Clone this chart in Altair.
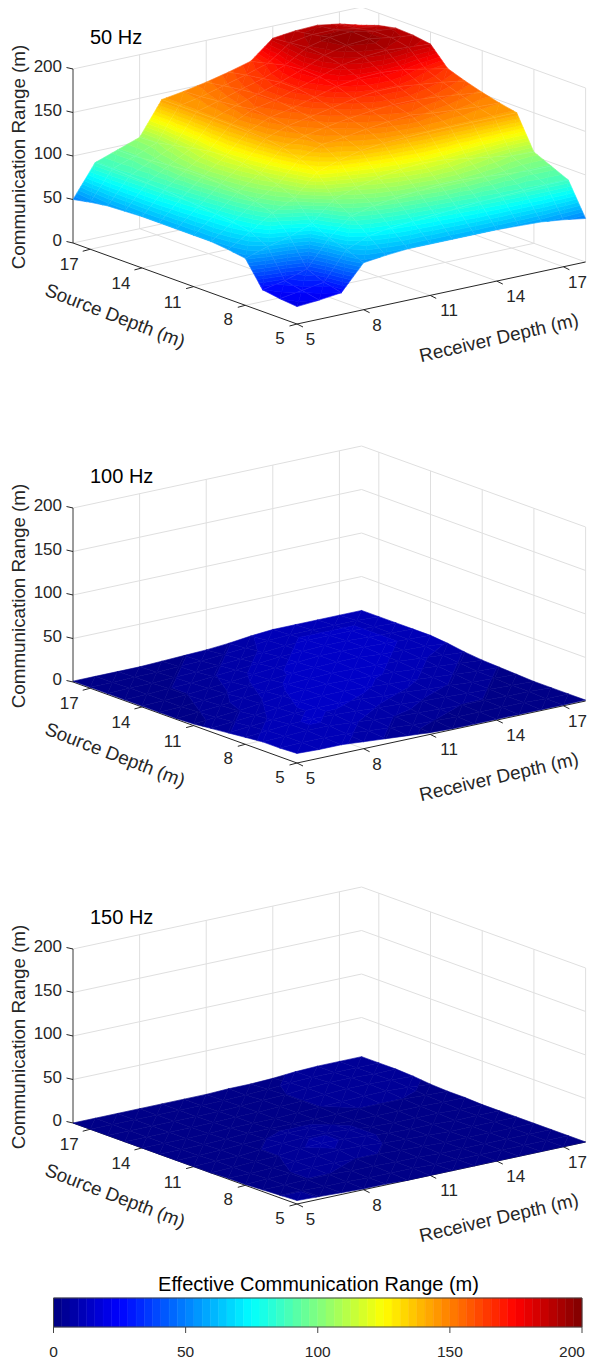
import altair as alt

# ---- values ----------------------------------------------------------------
depths = list(range(5, 19))  # grid used by the surfaces (m); axes end at 18
tick_depths = [5, 8, 11, 14, 17]
z_ticks = [0, 50, 100, 150, 200]
panel_titles = ["50 Hz", "100 Hz", "150 Hz"]

# rows: source depth 5..18, columns: receiver depth 5..18
range_50 = [
    [20, 22, 25, 54, 57, 59, 59, 59, 59, 59, 58, 57, 54, 50],
    [22, 26, 30, 62, 72, 76, 78, 80, 82, 84, 85, 86, 87, 87],
    [25, 30, 38, 68, 88, 94, 98, 100, 102, 102, 100, 98, 96, 96],
    [54, 62, 68, 78, 100, 108, 114, 118, 120, 118, 114, 110, 106, 105],
    [57, 72, 88, 100, 124, 132, 138, 141, 142, 143, 143, 143, 143, 143],
    [59, 76, 94, 108, 132, 143, 146, 150, 153, 155, 152, 150, 148, 147],
    [59, 78, 98, 114, 138, 146, 151, 155, 158, 160, 160, 158, 155, 152],
    [59, 80, 100, 118, 141, 150, 155, 160, 165, 168, 168, 165, 162, 158],
    [59, 82, 102, 120, 142, 153, 158, 165, 172, 176, 177, 175, 170, 165],
    [59, 84, 102, 118, 143, 155, 160, 168, 176, 184, 188, 190, 188, 186],
    [58, 85, 100, 114, 143, 152, 160, 168, 177, 188, 194, 196, 192, 189],
    [57, 86, 98, 110, 143, 150, 158, 165, 175, 190, 196, 197, 192, 190],
    [54, 87, 96, 106, 143, 148, 155, 162, 170, 188, 192, 192, 188, 186],
    [50, 87, 96, 105, 143, 147, 152, 158, 165, 186, 189, 190, 186, 179],
]
range_100 = [
    [11, 10, 10, 8, 6, 4, 2, 1, 1, 1, 1, 1, 1, 1],
    [10, 11, 11, 10, 8, 6, 4, 3, 2, 2, 2, 2, 1, 1],
    [10, 11, 12, 12, 10, 8, 6, 5, 4, 3, 3, 2, 2, 1],
    [8, 10, 12, 13, 12, 11, 9, 8, 6, 5, 4, 3, 2, 1],
    [6, 8, 10, 12, 13, 13, 12, 10, 9, 7, 6, 4, 3, 2],
    [4, 6, 8, 11, 13, 14, 14, 13, 11, 10, 8, 6, 4, 3],
    [2, 4, 6, 9, 12, 14, 15, 14, 13, 12, 10, 8, 6, 4],
    [1, 3, 5, 8, 10, 13, 14, 15, 14, 13, 12, 10, 8, 6],
    [1, 2, 4, 6, 9, 11, 13, 14, 15, 15, 13, 12, 11, 9],
    [1, 2, 3, 5, 7, 10, 12, 13, 15, 15, 14, 13, 12, 11],
    [1, 2, 3, 4, 6, 8, 10, 12, 13, 14, 14, 13, 12, 11],
    [1, 2, 2, 3, 4, 6, 8, 10, 12, 13, 13, 13, 12, 11],
    [1, 1, 2, 2, 3, 4, 6, 8, 11, 12, 12, 12, 12, 11],
    [1, 1, 1, 1, 2, 3, 4, 6, 9, 11, 11, 11, 11, 11],
]
range_150 = [
    [4, 3, 2, 1, 1, 0, 0, 0, 0, 0, 0, 0, 0, 0],
    [3, 3, 2, 2, 1, 1, 1, 0, 0, 0, 0, 0, 0, 0],
    [2, 2, 3, 3, 2, 2, 1, 1, 0, 0, 0, 0, 0, 0],
    [1, 2, 3, 4, 4, 3, 3, 2, 1, 0, 0, 0, 0, 0],
    [1, 1, 2, 4, 5, 6, 5, 3, 2, 1, 0, 0, 0, 0],
    [0, 1, 2, 3, 6, 7, 6, 4, 2, 1, 1, 0, 0, 0],
    [0, 1, 1, 3, 5, 6, 6, 4, 2, 1, 1, 1, 0, 0],
    [0, 0, 1, 2, 3, 4, 4, 3, 2, 2, 2, 2, 1, 1],
    [0, 0, 0, 1, 2, 2, 2, 2, 2, 3, 3, 3, 2, 1],
    [0, 0, 0, 0, 1, 1, 1, 2, 3, 4, 5, 5, 4, 2],
    [0, 0, 0, 0, 0, 1, 1, 2, 3, 5, 6, 6, 5, 4],
    [0, 0, 0, 0, 0, 0, 1, 2, 3, 5, 6, 6, 5, 5],
    [0, 0, 0, 0, 0, 0, 0, 1, 2, 4, 5, 5, 5, 5],
    [0, 0, 0, 0, 0, 0, 0, 1, 1, 2, 4, 5, 5, 5],
]
surfaces = [range_50, range_100, range_150]

# ---- layout ------------------------------------------------------------------
W, H = 579, 1354
FONT = "Liberation Sans"
PANEL_DY = [0, 439, 880]
N_COL = 64
Z_MAX = 200
MESH_OPACITY = [0.16, 0.03, 0.03]


def project(r, s, z, panel):
    """Orthographic view used by all three panels, page pixels minus margin."""
    a, b = r - 5, s - 5
    x = 297 + 22.2 * a - 17.23 * b
    y = 324 - 4.77 * a - 6.23 * b - 0.87 * z + PANEL_DY[panel]
    return x - 8, y - 8


def jet(n):
    def ramp(v):
        return max(0.0, min(1.0, 1.5 - abs(v)))
    out = []
    for i in range(n):
        t = (i + 0.5) / n * 4 - 2
        c = [ramp(t - 1), ramp(t), ramp(t + 1)]
        out.append("#%02x%02x%02x" % tuple(round(255 * v) for v in c))
    return out


jet_scale = alt.Scale(type="quantize", domain=[0, Z_MAX], range=jet(N_COL))


def clip(poly, level, keep_above):
    out = []
    for i, p in enumerate(poly):
        q = poly[(i + 1) % len(poly)]
        pin = p[2] >= level if keep_above else p[2] <= level
        qin = q[2] >= level if keep_above else q[2] <= level
        if pin:
            out.append(p)
        if pin != qin:
            t = (level - p[2]) / (q[2] - p[2])
            out.append((p[0] + t * (q[0] - p[0]), p[1] + t * (q[1] - p[1]), level))
    return out


def surface_features(table, panel):
    step = Z_MAX / N_COL
    feats = []
    n = len(depths)
    # painter's order: far corner (large depths) first
    cells = sorted(
        ((i, j) for i in range(n - 1) for j in range(n - 1)), key=lambda c: -(c[0] + c[1])
    )
    for i, j in cells:
        pts = []
        for ii, jj in [(i, j), (i, j + 1), (i + 1, j + 1), (i + 1, j)]:
            z = table[ii][jj]
            px, py = project(depths[jj], depths[ii], z, panel)
            pts.append((px, py, z))
        for tri in ([pts[0], pts[1], pts[2]], [pts[0], pts[2], pts[3]]):
            zs = [p[2] for p in tri]
            k0 = int(min(zs) // step)
            k1 = min(N_COL - 1, int(max(zs) // step))
            for k in range(k0, k1 + 1):
                lo, hi = k * step, (k + 1) * step
                poly = clip(clip(tri, lo, True), hi, False)
                if len(poly) < 3:
                    continue
                ring = [[round(p[0], 2), round(p[1], 2)] for p in poly]
                ring.append(ring[0])
                feats.append(
                    {
                        "type": "Feature",
                        "geometry": {"type": "Polygon", "coordinates": [ring]},
                        "properties": {"v": (lo + hi) / 2},
                    }
                )
    return feats


def seg(p, q):
    return {"x": p[0], "y": p[1], "x2": q[0], "y2": q[1]}


xs = alt.Scale(domain=[0, W], nice=False, zero=False)
ys = alt.Scale(domain=[H, 0], nice=False, zero=False)


def rules(rows, color, width, opacity=1.0):
    return (
        alt.Chart(alt.Data(values=rows))
        .mark_rule(color=color, strokeWidth=width, opacity=opacity)
        .encode(
            x=alt.X("x:Q", scale=xs, axis=None),
            y=alt.Y("y:Q", scale=ys, axis=None),
            x2="x2:Q",
            y2="y2:Q",
        )
    )


def texts(rows, size, color="#262626", angle=0, align="center"):
    return (
        alt.Chart(alt.Data(values=rows))
        .mark_text(
            font=FONT, fontSize=size, color=color, angle=angle, align=align, baseline="middle"
        )
        .encode(
            x=alt.X("x:Q", scale=xs, axis=None),
            y=alt.Y("y:Q", scale=ys, axis=None),
            text="t:N",
        )
    )


layers = []
for pn, table in enumerate(surfaces):
    dy = PANEL_DY[pn]
    grid, dark = [], []
    for z in z_ticks:
        grid.append(seg(project(5, 18, z, pn), project(18, 18, z, pn)))
        grid.append(seg(project(18, 18, z, pn), project(18, 5, z, pn)))
    for d in [8, 11, 14, 17]:
        grid.append(seg(project(d, 18, 0, pn), project(d, 18, 200, pn)))
        grid.append(seg(project(d, 5, 0, pn), project(d, 18, 0, pn)))
        grid.append(seg(project(5, d, 0, pn), project(18, d, 0, pn)))
        grid.append(seg(project(18, d, 0, pn), project(18, d, 200, pn)))
    grid.append(seg(project(18, 5, 0, pn), project(18, 5, 200, pn)))
    layers.append(rules(grid, "#dfdfdf", 1))

    left_axis = [seg(project(5, 18, 0, pn), project(5, 18, 200, pn))]
    layers.append(rules(left_axis, "#7a7a7a", 1.5))
    dark.append(seg(project(5, 5, 0, pn), project(5, 18, 0, pn)))
    dark.append(seg(project(5, 5, 0, pn), project(18, 5, 0, pn)))
    for d in tick_depths:
        px, py = project(5, d, 0, pn)
        dark.append(seg((px, py), (px - 7.5, py + 2)))
        px, py = project(d, 5, 0, pn)
        dark.append(seg((px, py), (px + 6, py + 3)))
    for z in z_ticks:
        px, py = project(5, 18, z, pn)
        dark.append(seg((px, py), (px - 6.5, py - 1.5)))
    layers.append(rules(dark, "#262626", 1))

    layers.append(
        alt.Chart(
            alt.InlineData(
                values={"type": "FeatureCollection", "features": surface_features(table, pn)},
                format=alt.JsonDataFormat(type="json", property="features"),
            )
        )
        .mark_geoshape(strokeWidth=0.6)
        .encode(
            color=alt.Color("properties.v:Q", scale=jet_scale, legend=None),
            stroke=alt.Stroke("properties.v:Q", scale=jet_scale, legend=None),
        )
        .project(type="identity", scale=1, translate=[0, 0])
    )

    # faint mesh lines of the surface
    mesh = []
    n = len(depths)
    for i in range(n):
        for j in range(n):
            p = project(depths[j], depths[i], table[i][j], pn)
            if j + 1 < n:
                mesh.append(seg(p, project(depths[j + 1], depths[i], table[i][j + 1], pn)))
            if i + 1 < n:
                mesh.append(seg(p, project(depths[j], depths[i + 1], table[i + 1][j], pn)))
    layers.append(rules(mesh, "#ffffff", 0.5, MESH_OPACITY[pn]))

    z_lab = []
    for z in z_ticks:
        px, py = project(5, 18, z, pn)
        z_lab.append({"x": px - 11, "y": py - 2, "t": str(z)})
    layers.append(texts(z_lab, 17, align="right"))

    d_lab = []
    for d in tick_depths:
        px, py = project(5, d, 0, pn)
        off = (-21, 16) if d > 9 else (-17, 15)
        d_lab.append({"x": px + off[0], "y": py + off[1], "t": str(d)})
        px, py = project(d, 5, 0, pn)
        off = (19, 16) if d > 9 else (13.5, 16)
        if d == 17:
            off = (14, 16)  # the picture's page box ends at x=587
        d_lab.append({"x": px + off[0], "y": py + off[1], "t": str(d)})
    layers.append(texts(d_lab, 17))

    layers.append(texts([{"x": 19 - 8, "y": 157 + dy - 8, "t": "Communication Range (m)"}], 18.8, angle=270))
    layers.append(texts([{"x": 115 - 8, "y": 316 + dy - 8, "t": "Source Depth (m)"}], 18.8, angle=21))
    layers.append(texts([{"x": 499 - 8, "y": 338 + dy - 8, "t": "Receiver Depth (m)"}], 18.8, angle=347))
    layers.append(
        texts([{"x": 90 - 8, "y": 38 + dy - 8, "t": panel_titles[pn]}], 20, color="#000000", align="left")
    )

# colour bar
BAR_L, BAR_R, BAR_T, BAR_B = 53.5 - 8, 582 - 8, 1298 - 8, 1327 - 8
bar_rows = []
for k in range(N_COL):
    bar_rows.append(
        {
            "x": BAR_L + (BAR_R - BAR_L) * k / N_COL,
            "x2": BAR_L + (BAR_R - BAR_L) * (k + 1) / N_COL,
            "y": BAR_T,
            "y2": BAR_B,
            "v": (k + 0.5) * Z_MAX / N_COL,
        }
    )
layers.append(
    alt.Chart(alt.Data(values=bar_rows))
    .mark_rect(strokeWidth=0.5)
    .encode(
        x=alt.X("x:Q", scale=xs, axis=None),
        x2="x2:Q",
        y=alt.Y("y:Q", scale=ys, axis=None),
        y2="y2:Q",
        color=alt.Color("v:Q", scale=jet_scale, legend=None),
        stroke=alt.Stroke("v:Q", scale=jet_scale, legend=None),
    )
)
bar_lines = [
    seg((BAR_L, BAR_B), (BAR_R, BAR_B)),
    seg((BAR_L, BAR_T), (BAR_R, BAR_T)),
    seg((BAR_R, BAR_T), (BAR_R, BAR_B)),
    seg((BAR_L, BAR_T), (BAR_L, BAR_B)),
]
bar_lab = []
for z in z_ticks:
    tx = BAR_L + (BAR_R - BAR_L) * z / Z_MAX
    bar_lines.append(seg((tx, BAR_B), (tx, BAR_B + 6)))
    bar_lab.append({"x": tx if z < 200 else tx - 10, "y": 1352 - 8, "t": str(z)})
layers.append(rules(bar_lines, "#444444", 1))
layers.append(texts(bar_lab, 15.5))
layers.append(
    texts([{"x": 318.5 - 8, "y": 1285 - 8, "t": "Effective Communication Range (m)"}], 20, color="#000000")
)

chart = (
    alt.layer(*layers)
    .properties(width=W, height=H, padding=0, autosize=alt.AutoSizeParams(type="none"))
    .configure_view(stroke=None)
)
chart.save("out.html", embed_options={"renderer": "svg", "actions": False})
